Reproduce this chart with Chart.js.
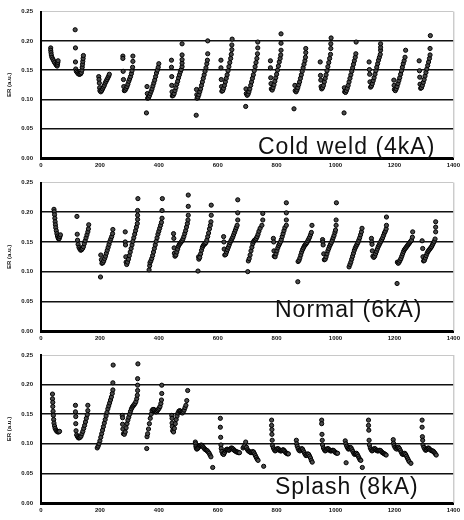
<!DOCTYPE html>
<html>
<head>
<meta charset="utf-8">
<script src="https://cdn.jsdelivr.net/npm/chart.js@4/dist/chart.umd.min.js"></script>
<style>
  body { margin: 0; background: #fff; }
  #wrap { position: relative; width: 464px; height: 520px; background: #fff; }
  canvas { position: absolute; left: 0; }
</style>
</head>
<body>
<div id="wrap">
  <canvas id="c1" width="464" height="171" style="top:0px"></canvas>
  <canvas id="c2" width="464" height="172" style="top:171px"></canvas>
  <canvas id="c3" width="464" height="177" style="top:343px"></canvas>
</div>
<script>
// tick labels and panel names
var xTicks = [0, 200, 400, 600, 800, 1000, 1200, 1400];
var yTicks = [0, 0.05, 0.10, 0.15, 0.20, 0.25];
var panelLabels = ["Cold weld (4kA)", "Normal (6kA)", "Splash (8kA)"];
var yTitle = "ER (a.u.)";

// weld number vs ER
var coldWeld = [
  [33,0.188],[33,0.184],[34,0.180],[35,0.176],[37,0.172],[40,0.169],[43,0.166],[46,0.163],[50,0.160],[53,0.158],[55,0.157],[56,0.160],[57,0.163],[58,0.166],
  [116,0.219],[117,0.188],[117,0.164],[118,0.152],[120,0.148],[123,0.146],[126,0.144],[129,0.143],[132,0.143],[135,0.144],[137,0.146],[139,0.150],[140,0.155],[141,0.160],[142,0.165],[143,0.170],[144,0.175],
  [196,0.139],[197,0.134],[198,0.128],[199,0.120],[200,0.115],[203,0.113],[206,0.115],[209,0.118],[212,0.121],[215,0.124],[218,0.128],[221,0.131],[224,0.134],[227,0.137],[230,0.140],[232,0.143],
  [278,0.174],[278,0.170],[279,0.148],[280,0.134],[281,0.122],[283,0.115],[286,0.116],[289,0.119],[292,0.122],[295,0.126],[298,0.131],[301,0.135],[304,0.139],[307,0.144],[309,0.149],[311,0.155],[312,0.165],[312,0.174],
  [358,0.077],[360,0.122],[361,0.110],[362,0.102],[365,0.103],[368,0.106],[371,0.110],[374,0.114],[377,0.118],[380,0.123],[383,0.128],[386,0.133],[389,0.139],[392,0.145],[395,0.150],[398,0.155],[400,0.161],
  [443,0.167],[443,0.155],[444,0.139],[444,0.124],[445,0.113],[446,0.106],[449,0.107],[452,0.110],[455,0.115],[458,0.120],[461,0.126],[464,0.131],[467,0.137],[470,0.142],[473,0.147],[476,0.151],[479,0.156],[479,0.162],[479,0.168],[479,0.176],[479,0.195],
  [527,0.073],[528,0.117],[529,0.108],[530,0.102],[533,0.104],[536,0.108],[539,0.113],[542,0.118],[545,0.124],[548,0.130],[551,0.136],[554,0.142],[557,0.148],[560,0.154],[563,0.161],[565,0.167],[566,0.178],[566,0.200],
  [611,0.167],[611,0.154],[612,0.134],[613,0.122],[614,0.114],[617,0.115],[620,0.119],[623,0.124],[626,0.130],[629,0.136],[632,0.142],[635,0.149],[638,0.156],[641,0.163],[644,0.170],[646,0.177],[648,0.185],[648,0.193],[649,0.203],
  [695,0.088],[696,0.118],[697,0.110],[700,0.107],[703,0.109],[706,0.113],[709,0.118],[712,0.124],[715,0.130],[718,0.136],[721,0.142],[724,0.149],[727,0.156],[730,0.163],[733,0.170],[735,0.178],[736,0.188],[736,0.198],
  [779,0.166],[779,0.154],[780,0.137],[781,0.127],[782,0.118],[785,0.116],[788,0.120],[791,0.125],[794,0.131],[797,0.137],[800,0.143],[803,0.150],[806,0.157],[809,0.164],[812,0.170],[814,0.176],[815,0.184],[815,0.196],[815,0.212],
  [859,0.084],[862,0.124],[863,0.115],[866,0.113],[869,0.116],[872,0.120],[875,0.125],[878,0.130],[881,0.136],[884,0.142],[887,0.148],[890,0.154],[893,0.160],[896,0.166],[898,0.172],[899,0.180],[899,0.187],
  [948,0.164],[949,0.141],[950,0.133],[951,0.122],[953,0.118],[956,0.120],[959,0.124],[962,0.130],[965,0.136],[968,0.142],[971,0.149],[974,0.156],[977,0.163],[980,0.170],[983,0.177],[984,0.187],[984,0.195],[985,0.205],
  [1029,0.077],[1030,0.120],[1031,0.113],[1034,0.112],[1037,0.115],[1040,0.119],[1043,0.124],[1046,0.130],[1049,0.136],[1052,0.142],[1055,0.148],[1058,0.154],[1061,0.160],[1064,0.166],[1067,0.172],[1069,0.178],[1070,0.198],
  [1114,0.164],[1115,0.151],[1116,0.143],[1117,0.130],[1119,0.121],[1122,0.123],[1125,0.127],[1128,0.132],[1131,0.137],[1134,0.143],[1137,0.149],[1140,0.155],[1143,0.161],[1146,0.167],[1149,0.172],[1152,0.177],[1153,0.184],[1153,0.189],[1153,0.195],
  [1198,0.133],[1199,0.124],[1200,0.117],[1203,0.115],[1206,0.118],[1209,0.122],[1212,0.127],[1215,0.132],[1218,0.137],[1221,0.143],[1224,0.149],[1227,0.155],[1230,0.161],[1233,0.166],[1236,0.172],[1238,0.184],
  [1284,0.166],[1285,0.149],[1286,0.138],[1287,0.126],[1289,0.119],[1292,0.120],[1295,0.124],[1298,0.129],[1301,0.134],[1304,0.140],[1307,0.146],[1310,0.152],[1313,0.158],[1316,0.164],[1319,0.170],[1321,0.176],[1321,0.187],[1322,0.209]
];

var normal = [
  [44,0.205],[45,0.201],[46,0.196],[47,0.190],[48,0.184],[49,0.179],[50,0.174],[52,0.169],[54,0.164],[56,0.160],[58,0.157],[60,0.155],[62,0.156],[64,0.159],[66,0.162],
  [122,0.193],[123,0.163],[124,0.153],[126,0.146],[129,0.141],[132,0.138],[135,0.136],[138,0.137],[141,0.139],[144,0.142],[147,0.147],[150,0.152],[153,0.157],[156,0.162],[159,0.167],[161,0.172],[162,0.179],
  [202,0.091],[203,0.128],[205,0.120],[207,0.114],[210,0.115],[213,0.118],[216,0.122],[219,0.126],[222,0.131],[225,0.136],[228,0.141],[231,0.146],[234,0.151],[237,0.155],[240,0.159],[243,0.164],[244,0.171],
  [286,0.167],[286,0.150],[287,0.145],[288,0.125],[289,0.116],[291,0.112],[294,0.116],[297,0.121],[300,0.127],[303,0.133],[306,0.139],[309,0.145],[312,0.151],[315,0.157],[318,0.163],[321,0.169],[324,0.175],[327,0.181],[328,0.188],[328,0.195],[328,0.203],[329,0.223],
  [367,0.103],[369,0.110],[370,0.115],[373,0.118],[376,0.122],[379,0.127],[382,0.133],[385,0.139],[388,0.145],[391,0.151],[394,0.157],[397,0.163],[400,0.168],[403,0.173],[406,0.178],[409,0.183],[411,0.190],[411,0.203],[412,0.223],
  [450,0.164],[451,0.156],[452,0.140],[453,0.131],[455,0.126],[458,0.128],[461,0.133],[464,0.138],[467,0.143],[470,0.146],[473,0.148],[476,0.150],[479,0.152],[482,0.155],[485,0.159],[488,0.164],[491,0.169],[494,0.175],[497,0.181],[499,0.187],[500,0.195],[500,0.210],[500,0.229],
  [533,0.101],[535,0.125],[536,0.121],[539,0.124],[542,0.130],[545,0.136],[548,0.141],[551,0.144],[554,0.146],[557,0.147],[560,0.149],[563,0.153],[566,0.159],[569,0.165],[572,0.172],[575,0.178],[577,0.184],[578,0.195],[578,0.212],
  [620,0.159],[621,0.150],[622,0.138],[624,0.128],[627,0.129],[630,0.133],[633,0.137],[636,0.141],[639,0.145],[642,0.149],[645,0.152],[648,0.155],[651,0.158],[654,0.162],[657,0.166],[660,0.170],[663,0.174],[666,0.178],[668,0.187],[668,0.199],[668,0.221],
  [702,0.100],[704,0.118],[707,0.122],[710,0.128],[713,0.135],[716,0.141],[719,0.147],[722,0.151],[725,0.153],[728,0.154],[731,0.156],[734,0.159],[737,0.163],[740,0.168],[744,0.173],[750,0.178],[753,0.187],[753,0.198],
  [789,0.156],[790,0.150],[791,0.135],[792,0.126],[795,0.125],[798,0.130],[801,0.135],[804,0.140],[807,0.144],[810,0.147],[813,0.150],[816,0.154],[819,0.159],[822,0.164],[825,0.169],[828,0.174],[833,0.178],[833,0.187],[833,0.199],[833,0.216],
  [872,0.083],[873,0.117],[876,0.119],[879,0.123],[882,0.128],[885,0.133],[888,0.137],[891,0.140],[894,0.143],[897,0.145],[900,0.147],[903,0.149],[906,0.152],[909,0.155],[912,0.158],[915,0.162],[918,0.166],[920,0.178],
  [956,0.154],[957,0.150],[958,0.145],[960,0.130],[962,0.120],[965,0.121],[968,0.125],[971,0.130],[974,0.135],[977,0.139],[980,0.143],[983,0.146],[986,0.149],[989,0.153],[992,0.157],[995,0.161],[998,0.166],[1000,0.170],[1002,0.178],[1002,0.187],[1003,0.216],
  [1046,0.108],[1049,0.112],[1052,0.116],[1055,0.121],[1058,0.126],[1061,0.131],[1064,0.136],[1067,0.140],[1070,0.143],[1073,0.146],[1076,0.149],[1079,0.153],[1082,0.157],[1085,0.162],[1088,0.167],[1090,0.173],
  [1122,0.156],[1123,0.150],[1124,0.146],[1125,0.135],[1127,0.126],[1130,0.124],[1133,0.126],[1136,0.130],[1139,0.134],[1142,0.138],[1145,0.142],[1148,0.145],[1151,0.148],[1154,0.151],[1157,0.154],[1160,0.157],[1163,0.161],[1166,0.165],[1169,0.168],[1172,0.172],[1173,0.178],[1173,0.192],
  [1209,0.080],[1210,0.116],[1213,0.114],[1216,0.116],[1219,0.119],[1222,0.122],[1225,0.126],[1228,0.130],[1231,0.134],[1234,0.137],[1237,0.139],[1240,0.141],[1243,0.143],[1246,0.145],[1249,0.147],[1252,0.149],[1255,0.151],[1258,0.153],[1261,0.158],[1262,0.167],
  [1294,0.152],[1296,0.139],[1297,0.125],[1299,0.118],[1302,0.119],[1305,0.123],[1308,0.127],[1311,0.131],[1314,0.134],[1317,0.136],[1320,0.138],[1323,0.140],[1326,0.142],[1329,0.145],[1332,0.148],[1335,0.151],[1338,0.155],[1340,0.167],[1340,0.175],[1340,0.184]
];

var splash = [
  [39,0.184],[39,0.176],[40,0.170],[40,0.163],[41,0.155],[42,0.148],[43,0.141],[44,0.135],[46,0.130],[48,0.126],[51,0.123],[54,0.121],[57,0.120],[60,0.120],[63,0.121],
  [117,0.165],[117,0.154],[118,0.146],[118,0.134],[119,0.122],[121,0.115],[124,0.112],[127,0.110],[130,0.110],[133,0.111],[136,0.113],[139,0.117],[142,0.121],[145,0.126],[148,0.131],[151,0.137],[154,0.143],[157,0.149],[159,0.156],[159,0.165],
  [191,0.093],[194,0.096],[197,0.100],[200,0.105],[203,0.111],[206,0.117],[209,0.123],[212,0.129],[215,0.135],[218,0.141],[221,0.147],[224,0.153],[227,0.159],[230,0.164],[233,0.169],[236,0.174],[239,0.179],[242,0.185],[244,0.191],[244,0.203],[245,0.233],
  [276,0.148],[277,0.144],[277,0.133],[278,0.125],[280,0.117],[283,0.116],[286,0.120],[289,0.127],[292,0.134],[295,0.140],[298,0.145],[301,0.150],[304,0.155],[307,0.159],[310,0.162],[313,0.164],[316,0.166],[319,0.168],[322,0.171],[325,0.176],[327,0.182],[328,0.190],[328,0.199],[328,0.210],[329,0.235],
  [359,0.092],[360,0.112],[362,0.117],[365,0.125],[368,0.134],[371,0.143],[374,0.150],[377,0.156],[380,0.158],[383,0.158],[386,0.156],[389,0.154],[392,0.154],[395,0.156],[398,0.158],[401,0.160],[404,0.163],[407,0.168],[409,0.174],[410,0.185],[410,0.199],
  [444,0.148],[445,0.143],[445,0.135],[446,0.129],[447,0.122],[450,0.120],[453,0.126],[456,0.134],[459,0.141],[462,0.147],[465,0.152],[468,0.155],[471,0.156],[474,0.155],[477,0.153],[480,0.152],[483,0.154],[486,0.157],[489,0.161],[492,0.165],[495,0.173],[498,0.190],
  [524,0.103],[525,0.100],[526,0.096],[527,0.093],[529,0.091],[532,0.092],[535,0.094],[538,0.096],[541,0.097],[544,0.098],[547,0.097],[550,0.095],[553,0.093],[556,0.091],[559,0.090],[562,0.089],[565,0.088],[568,0.086],[571,0.084],[574,0.081],[577,0.078],[583,0.060],
  [609,0.143],[609,0.128],[610,0.111],[611,0.098],[612,0.092],[614,0.087],[617,0.083],[620,0.082],[623,0.085],[626,0.088],[629,0.090],[632,0.091],[635,0.090],[638,0.089],[641,0.090],[644,0.092],[647,0.093],[650,0.092],[653,0.091],[656,0.089],[659,0.088],[662,0.087],[665,0.086],[668,0.086],[671,0.085],[674,0.085],
  [686,0.093],[689,0.095],[692,0.097],[695,0.103],[698,0.094],[701,0.090],[704,0.088],[707,0.087],[710,0.086],[713,0.085],[716,0.086],[719,0.087],[722,0.086],[725,0.083],[728,0.080],[731,0.077],[734,0.074],[737,0.072],[756,0.062],
  [783,0.140],[783,0.131],[784,0.124],[784,0.116],[785,0.106],[786,0.097],[789,0.093],[792,0.090],[795,0.088],[798,0.089],[801,0.091],[804,0.092],[807,0.091],[810,0.089],[813,0.088],[816,0.088],[819,0.089],[822,0.090],[825,0.089],[828,0.087],[831,0.085],[834,0.084],[837,0.083],[840,0.083],
  [867,0.106],[868,0.100],[870,0.096],[873,0.092],[876,0.089],[879,0.088],[882,0.090],[885,0.092],[888,0.091],[891,0.088],[894,0.085],[897,0.082],[900,0.080],[903,0.081],[906,0.083],[909,0.082],[912,0.079],[915,0.076],[918,0.072],[921,0.069],
  [953,0.140],[953,0.134],[954,0.116],[955,0.106],[956,0.098],[959,0.093],[962,0.090],[965,0.088],[968,0.089],[971,0.091],[974,0.092],[977,0.091],[980,0.089],[983,0.088],[986,0.088],[989,0.089],[992,0.089],[995,0.088],[998,0.086],[1001,0.085],[1004,0.084],[1007,0.084],
  [1033,0.105],[1035,0.100],[1036,0.068],[1038,0.096],[1041,0.093],[1044,0.091],[1047,0.092],[1050,0.094],[1053,0.093],[1056,0.090],[1059,0.087],[1062,0.084],[1065,0.082],[1068,0.083],[1071,0.084],[1074,0.082],[1077,0.079],[1080,0.076],[1083,0.073],[1086,0.072],[1091,0.060],
  [1112,0.140],[1112,0.131],[1113,0.123],[1114,0.106],[1115,0.098],[1118,0.093],[1121,0.090],[1124,0.088],[1127,0.089],[1130,0.091],[1133,0.092],[1136,0.091],[1139,0.089],[1142,0.088],[1145,0.088],[1148,0.089],[1151,0.089],[1154,0.088],[1157,0.086],[1160,0.085],[1163,0.084],[1166,0.083],[1169,0.082],[1172,0.081],
  [1196,0.107],[1197,0.101],[1199,0.097],[1202,0.094],[1205,0.092],[1208,0.091],[1211,0.093],[1214,0.094],[1217,0.092],[1220,0.089],[1223,0.086],[1226,0.083],[1229,0.082],[1232,0.083],[1235,0.084],[1238,0.082],[1241,0.079],[1244,0.076],[1247,0.073],[1250,0.070],[1256,0.067],
  [1294,0.140],[1294,0.128],[1295,0.112],[1296,0.106],[1297,0.098],[1300,0.094],[1303,0.091],[1306,0.089],[1309,0.090],[1312,0.092],[1315,0.093],[1318,0.092],[1321,0.090],[1324,0.089],[1327,0.088],[1330,0.088],[1333,0.087],[1336,0.085],[1339,0.083],[1342,0.081]
];

// layout of each panel inside its canvas (pixels)
var panels = [
  { id: "c1", data: coldWeld, top: 11, xAxisH: 13, textX: 258, textY: 154 },
  { id: "c2", data: normal,   top: 11, xAxisH: 12, textX: 275, textY: 146 },
  { id: "c3", data: splash,   top: 12, xAxisH: 17, textX: 275, textY: 151 }
];

var tickFont = { family: "Liberation Sans", size: 6, weight: "bold" };

// right frame line + big label inside the plot
var framePlugin = {
  id: "frame",
  afterDraw: function (chart) {
    var a = chart.chartArea;
    var ctx = chart.ctx;
    var opts = chart.options.plugins.frame;
    ctx.save();
    ctx.strokeStyle = "#b5b5b5";
    ctx.lineWidth = 1;
    ctx.beginPath();
    ctx.moveTo(a.right + 0.5, a.top);
    ctx.lineTo(a.right + 0.5, a.bottom);
    ctx.stroke();
    ctx.fillStyle = "#111";
    ctx.font = '23px "Liberation Sans"';
    ctx.letterSpacing = "1px";
    ctx.textBaseline = "alphabetic";
    ctx.fillText(opts.text, opts.x, opts.y);
    ctx.restore();
  }
};

for (var i = 0; i < panels.length; i++) {
  var p = panels[i];
  var canvas = document.getElementById(p.id);
  new Chart(canvas, {
    type: "scatter",
    data: {
      datasets: [{
        data: p.data.map(function (d) { return { x: d[0], y: d[1] }; }),
        pointRadius: 2.1,
        pointHoverRadius: 2.1,
        pointBackgroundColor: "#4a4a4a",
        pointBorderColor: "#000",
        pointBorderWidth: 1
      }]
    },
    options: {
      responsive: false,
      animation: false,
      events: [],
      layout: { padding: { top: p.top, right: 2, left: 0, bottom: 0 } },
      plugins: {
        legend: { display: false },
        tooltip: { enabled: false },
        frame: { text: panelLabels[i], x: p.textX, y: p.textY }
      },
      scales: {
        x: {
          type: "linear",
          min: 0,
          max: 1400,
          afterBuildTicks: function (s) { s.ticks = xTicks.map(function (v) { return { value: v }; }); },
          afterFit: (function (h) { return function (s) { s.height = h; }; })(p.xAxisH),
          grid: { display: false, drawTicks: false },
          border: { display: true, color: "#000", width: 3 },
          ticks: {
            color: "#111",
            font: tickFont,
            padding: 4,
            maxRotation: 0,
            autoSkip: false,
            callback: function (v) { return String(v); }
          }
        },
        y: {
          min: 0,
          max: 0.25,
          afterBuildTicks: function (s) { s.ticks = yTicks.map(function (v) { return { value: v }; }); },
          afterFit: function (s) { s.width = 41; },
          grid: {
            drawTicks: false,
            color: function (c) { return c.tick && c.tick.value > 0.24 ? "#c8c8c8" : "#111"; },
            lineWidth: function (c) { return c.tick && c.tick.value > 0.24 ? 1 : 1.6; }
          },
          border: { display: true, color: "#000", width: 2 },
          ticks: {
            color: "#111",
            font: tickFont,
            padding: 8,
            callback: function (v) { return Number(v).toFixed(2); }
          },
          title: {
            display: true,
            text: yTitle,
            color: "#111",
            font: { family: "Liberation Sans", size: 6, weight: "bold" },
            padding: { top: 6, bottom: 0 }
          }
        }
      }
    },
    plugins: [framePlugin]
  });
}
</script>
</body>
</html>
